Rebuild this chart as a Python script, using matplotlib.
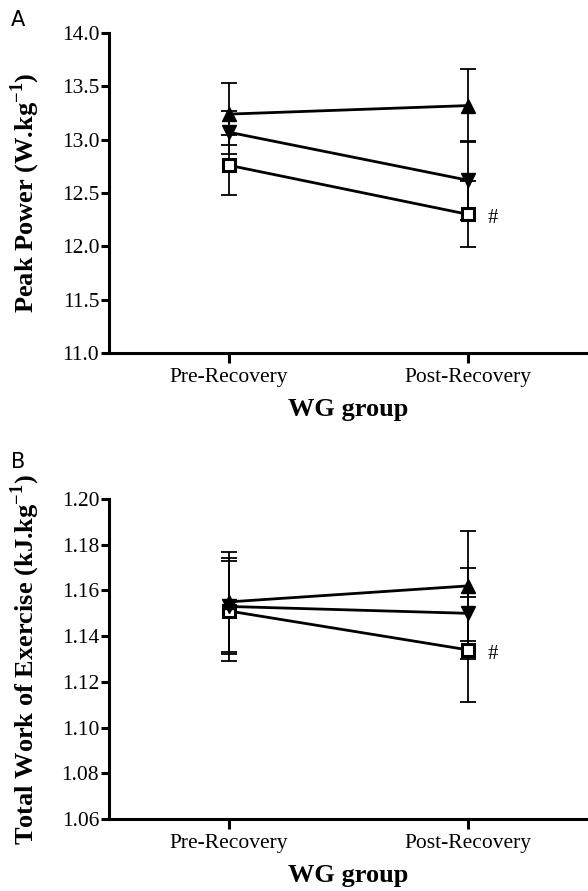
import numpy as np
import matplotlib
matplotlib.use("Agg")
import matplotlib.pyplot as plt

plt.rcParams['font.family'] = ['Liberation Serif', 'DejaVu Serif']
plt.rcParams['mathtext.fontset'] = 'custom'
plt.rcParams['mathtext.rm'] = 'Liberation Serif'
plt.rcParams['mathtext.bf'] = 'Liberation Serif:bold'

# categories
phases = ['Pre-Recovery', 'Post-Recovery']

# panel A - peak power (W/kg)
pp_up = [13.24, 13.32]
pp_up_err = [0.29, 0.34]
pp_down = [13.07, 12.62]
pp_down_err = [0.20, 0.37]
pp_sq = [12.76, 12.30]
pp_sq_err = [0.28, 0.31]

# panel B - total work (kJ/kg)
tw_up = [1.155, 1.162]
tw_up_err = [0.022, 0.024]
tw_down = [1.153, 1.150]
tw_down_err = [0.021, 0.020]
tw_sq = [1.151, 1.134]
tw_sq_err = [0.022, 0.023]

x = np.arange(len(phases))


def draw_panel(ax, up, up_e, down, down_e, sq, sq_e, ylim, yticks, fmt, ylabel):
    # error bars first, then lines with markers
    for y, e in [(sq, sq_e), (down, down_e), (up, up_e)]:
        ax.errorbar(x, y, yerr=e, fmt='none', ecolor='black', elinewidth=1.3,
                    capsize=6, capthick=1.3, zorder=2)
    ax.plot(x, sq, color='black', lw=2, marker='s', ms=9, mfc='white',
            mec='black', mew=2.2, zorder=3)
    ax.plot(x, down, color='black', lw=2, marker='v', ms=10, zorder=4)
    ax.plot(x, up, color='black', lw=2, marker='^', ms=10, zorder=5)
    ax.annotate('#', (x[1], sq[1]), xytext=(14, -3), textcoords='offset points',
                fontsize=15, va='center', ha='left')

    ax.set_xlim(-0.502, 1.502)
    ax.set_ylim(*ylim)
    ax.set_yticks(yticks)
    ax.set_yticklabels([fmt.format(t) for t in yticks])
    ax.set_xticks(x)
    ax.set_xticklabels(phases)
    ax.spines['top'].set_visible(False)
    ax.spines['right'].set_visible(False)
    ax.spines['left'].set_linewidth(2.2)
    ax.spines['bottom'].set_linewidth(2.2)
    ax.tick_params(axis='y', width=2.2, length=6, labelsize=15.5, pad=1)
    ax.tick_params(axis='x', width=2.2, length=7, labelsize=15.5, pad=4)
    ax.set_xlabel('WG group', fontsize=19, fontweight='bold', labelpad=8)
    ax.set_ylabel(ylabel, fontsize=19, fontweight='bold')
    ax.yaxis.set_label_coords(-0.140, 0.5)


fig = plt.figure(figsize=(5.88, 8.91), dpi=100)
ax1 = fig.add_axes([0.1854, 0.6038, 0.8146, 0.3591])
ax2 = fig.add_axes([0.1854, 0.0808, 0.8146, 0.3591])

draw_panel(ax1, pp_up, pp_up_err, pp_down, pp_down_err, pp_sq, pp_sq_err,
           (11.0, 14.0), np.arange(11.0, 14.01, 0.5), '{:.1f}',
           r'Peak Power (W.kg$^{\mathbf{-1}}$)')
draw_panel(ax2, tw_up, tw_up_err, tw_down, tw_down_err, tw_sq, tw_sq_err,
           (1.06, 1.20), np.arange(1.06, 1.2001, 0.02), '{:.2f}',
           r'Total Work of Exercise (kJ.kg$^{\mathbf{-1}}$)')

fig.text(0.018, 0.9776, 'A', fontsize=15, family='DejaVu Sans', va='center')
fig.text(0.018, 0.4815, 'B', fontsize=15, family='DejaVu Sans', va='center')

fig.savefig('out.png', dpi=100)
